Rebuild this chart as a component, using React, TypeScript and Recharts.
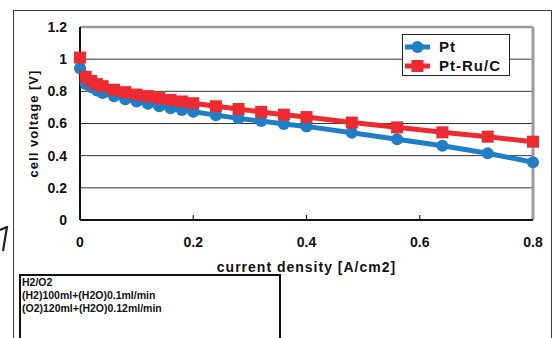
import {
  CartesianGrid,
  Label,
  Line,
  LineChart,
  ReferenceLine,
  XAxis,
  YAxis
} from "recharts";

const currentDensity = [0, 0.01, 0.02, 0.03, 0.04, 0.06, 0.08, 0.1, 0.12, 0.14, 0.16, 0.18, 0.2, 0.24, 0.28, 0.32, 0.36, 0.4, 0.48, 0.56, 0.64, 0.72, 0.8];
const ptVoltage = [0.943, 0.845, 0.825, 0.805, 0.79, 0.77, 0.75, 0.737, 0.722, 0.707, 0.695, 0.684, 0.673, 0.652, 0.632, 0.615, 0.597, 0.582, 0.543, 0.502, 0.462, 0.415, 0.359];
const ptRuVoltage = [1.01, 0.89, 0.865, 0.845, 0.832, 0.81, 0.795, 0.78, 0.77, 0.758, 0.747, 0.737, 0.726, 0.707, 0.69, 0.672, 0.655, 0.64, 0.606, 0.576, 0.545, 0.518, 0.487];
const xTicks = [0, 0.2, 0.4, 0.6, 0.8];
const yTicks = [0, 0.2, 0.4, 0.6, 0.8, 1, 1.2];
const seriesNames = ["Pt", "Pt-Ru/C"];
const conditions = ["H2/O2", "(H2)100ml+(H2O)0.1ml/min", "(O2)120ml+(H2O)0.12ml/min"];

const data = currentDensity.map((x, i) => ({ x, pt: ptVoltage[i], ptru: ptRuVoltage[i] }));

const BLUE = "#1f7fc6";
const RED = "#ec2a30";
const FONT = "'Liberation Sans', Arial, sans-serif";

const SquareDot = (props: any) => {
  const { cx, cy } = props;
  if (cx == null || cy == null) return null;
  return <rect x={cx - 6} y={cy - 6} width={12} height={12} fill={RED} />;
};

const XTick = (props: any) => {
  const { x, y, payload } = props;
  const v = payload.value;
  return (
    <g>
      {v > 0 && v < 0.8 && <line x1={x} x2={x} y1={y} y2={y - 5} stroke="#222" strokeWidth={1.2} />}
      <text x={x} y={y + 27} textAnchor="middle" fontFamily={FONT} fontWeight="bold" fontSize={14} fill="#111">
        {String(v)}
      </text>
    </g>
  );
};

// legend drawn as an overlay so it doesn't eat into the plot area
const LegendBox = () => (
  <div style={{ position: "absolute", left: 402, top: 34, width: 108, height: 42, border: "1px solid #222", background: "#fff", fontFamily: FONT, fontWeight: "bold", fontSize: 15, letterSpacing: 1, color: "#111", paddingTop: 2, boxSizing: "border-box" }}>
    {seriesNames.map((t, i) => (
      <div key={t} style={{ display: "flex", alignItems: "center", height: 19 }}>
        <svg width={34} height={14} style={{ marginLeft: 1 }}>
          <line x1={1} x2={26} y1={7} y2={7} stroke={i ? RED : BLUE} strokeWidth={5} />
          {i ? <rect x={7.5} y={1} width={12} height={12} fill={RED} /> : <circle cx={13.5} cy={7} r={6} fill={BLUE} />}
        </svg>
        <span style={{ marginLeft: 1 }}>{t}</span>
      </div>
    ))}
  </div>
);

export default function App() {
  return (
    <div style={{ position: "absolute", left: 0, top: 0, width: 560, height: 338, overflow: "hidden", background: "#fff" }}>
      <div style={{ position: "absolute", left: 13, top: 10, width: 537, height: 400, border: "1.5px solid #3a3a3a" }} />
      <svg style={{ position: "absolute", left: 0, top: 226 }} width={10} height={26}>
        <path d="M0 4 L7 1 L3 25" stroke="#222" strokeWidth={2.2} fill="none" />
      </svg>
      <div style={{ position: "absolute", left: 0, top: 0 }}>
        <LineChart width={560} height={338} data={data} margin={{ top: 27, right: 27, left: 0, bottom: 58 }}>
          <CartesianGrid vertical={false} stroke="#333" strokeWidth={1} />
          <ReferenceLine y={1.2} stroke="#9b9b9b" strokeWidth={2.5} />
          <ReferenceLine x={0.8} stroke="#9b9b9b" strokeWidth={3} />
          <XAxis
            dataKey="x"
            type="number"
            domain={[0, 0.8]}
            ticks={xTicks}
            height={60}
            axisLine={{ stroke: "#111", strokeWidth: 2 }}
            tickLine={false}
            tickSize={0}
            tickMargin={0}
            tick={<XTick />}
            interval={0}
          >
            <Label
              content={({ viewBox }: any) => (
                <text x={viewBox.x + viewBox.width / 2} y={viewBox.y + 52} textAnchor="middle" fontFamily={FONT} fontWeight="bold" fontSize={14} letterSpacing={1} fill="#111">
                  current density [A/cm2]
                </text>
              )}
            />
          </XAxis>
          <YAxis
            type="number"
            domain={[0, 1.2]}
            ticks={yTicks}
            width={80}
            axisLine={{ stroke: "#111", strokeWidth: 2 }}
            tickLine={false}
            tickSize={0}
            tickMargin={13}
            tick={{ fontFamily: FONT, fontWeight: "bold", fontSize: 14, fill: "#111" }}
            interval={0}
          >
            <Label
              content={({ viewBox }: any) => {
                const cy = viewBox.y + viewBox.height / 2;
                return (
                  <text transform={`translate(33,${cy}) rotate(-90)`} textAnchor="middle" dominantBaseline="central" fontFamily={FONT} fontWeight="bold" fontSize={13} letterSpacing={1} fill="#111">
                    cell voltage [V]
                  </text>
                );
              }}
            />
          </YAxis>
          <Line dataKey="pt" name={seriesNames[0]} stroke={BLUE} strokeWidth={5} dot={{ r: 6, fill: BLUE, stroke: "none" }} isAnimationActive={false} />
          <Line dataKey="ptru" name={seriesNames[1]} stroke={RED} strokeWidth={5} dot={<SquareDot />} isAnimationActive={false} />
        </LineChart>
      </div>
      <LegendBox />
      <div style={{ position: "absolute", left: 19, top: 274, width: 257, height: 100, border: "2px solid #111", fontFamily: FONT, fontWeight: "bold", fontSize: 10.5, lineHeight: "13px", color: "#111", paddingLeft: 1 }}>
        {conditions.map((c) => (
          <div key={c}>{c}</div>
        ))}
      </div>
    </div>
  );
}
